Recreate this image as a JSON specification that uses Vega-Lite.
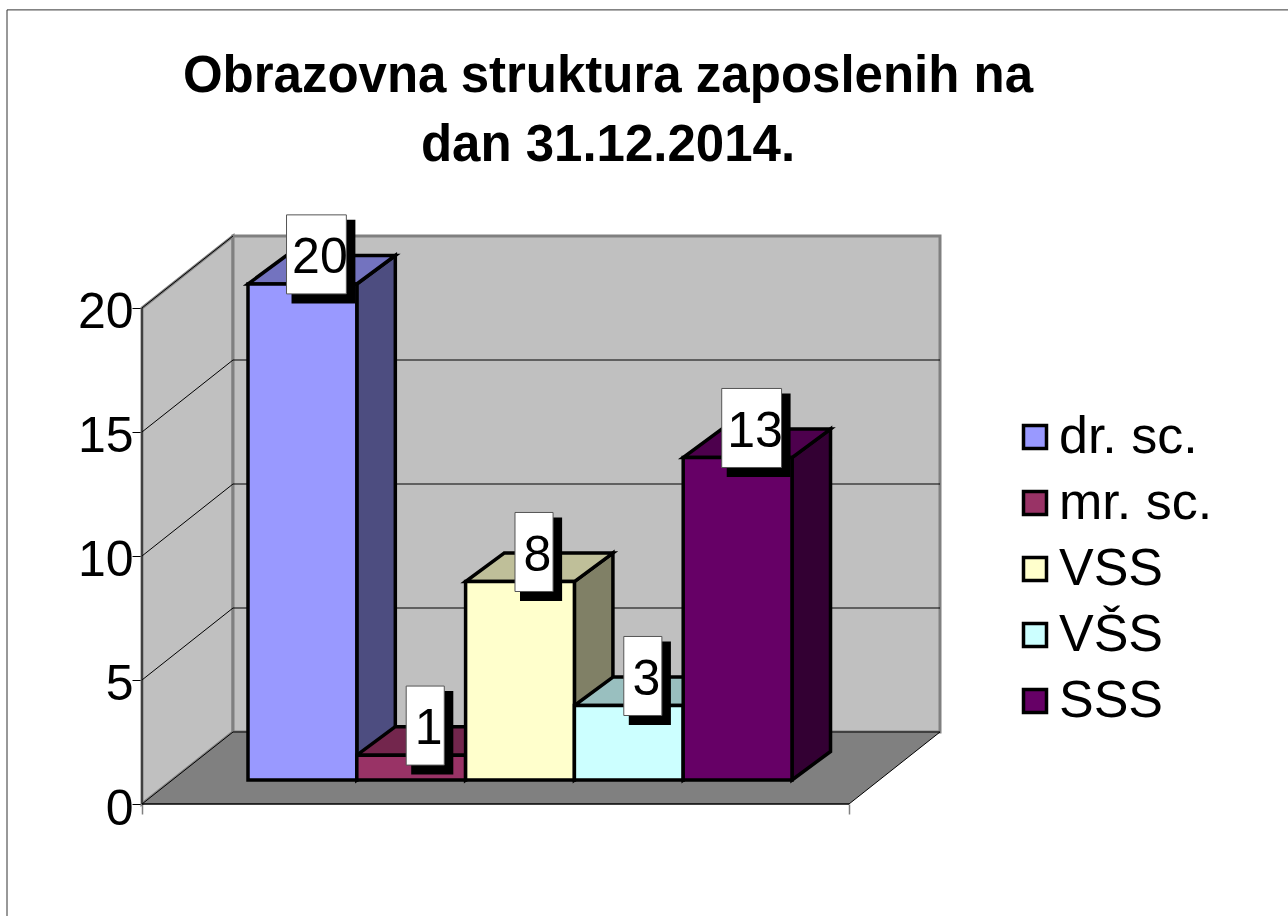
{
"$schema":"https://vega.github.io/schema/vega-lite/v6.json",
"autosize":"none","width":798,"height":568,
"padding":{"left":142,"top":236,"right":348,"bottom":112},
"background":"white",
"config":{"view":{"stroke":null},"font":"Liberation Sans"},
"title":{"text":["Obrazovna struktura zaposlenih na","dan 31.12.2014."],"font":"Liberation Sans","fontSize":51,"fontWeight":"bold","color":"black","lineHeight":69,"anchor":"middle","frame":"group","dx":67,"offset":0,"dy":163},
"datasets":{
"bars":[{"category":"dr. sc.","value":20,"order":0},{"category":"mr. sc.","value":1,"order":1},{"category":"VSS","value":8,"order":2},{"category":"VŠS","value":3,"order":3},{"category":"SSS","value":13,"order":4}],
"ticks":[{"tick":0},{"tick":5},{"tick":10},{"tick":15},{"tick":20}],
"depths":[{"depth":0},{"depth":1}]
},
"encoding":{
"x":{"field":"x","type":"quantitative","title":null,"scale":{"domain":[-0.9743,6.3603],"nice":false,"zero":false},"axis":{"values":[-0.9743,5.524],"labels":false,"grid":false,"domain":false,"tickSize":10,"tickColor":"#808080","tickWidth":1.5}},
"y":{"field":"y","type":"quantitative","title":null,"scale":{"domain":[0,22.903],"nice":false,"zero":false},"axis":{"values":[0,5,10,15,20],"grid":false,"domain":false,"tickSize":10,"tickColor":"black","tickWidth":1,"labelFontSize":50,"labelColor":"black","labelFont":"Liberation Sans","labelPadding":-1,"labelOffset":5,"labelOverlap":false,"labelFlush":false}}
},
"resolve":{"scale":{"color":"independent"}},
"layer":[
{"data":{"name":"depths"},"transform":[{"calculate":"-0.9743+datum.depth*0.8364","as":"x"},{"calculate":"datum.depth*2.903","as":"y"},{"calculate":"20+datum.depth*2.903","as":"y2"}],
 "mark":{"type":"area","fill":"#C0C0C0","stroke":"#808080","strokeWidth":3},"encoding":{"y2":{"field":"y2"}}},
{"data":{"name":"depths"},"transform":[{"filter":"datum.depth==1"},{"calculate":"-0.1379","as":"x"},{"calculate":"6.3603","as":"x2"},{"calculate":"2.903","as":"y"},{"calculate":"22.903","as":"y2"}],
 "mark":{"type":"rect","fill":"#C0C0C0","stroke":"#808080","strokeWidth":3},"encoding":{"x2":{"field":"x2"},"y2":{"field":"y2"}}},
{"data":{"name":"depths"},"transform":[{"calculate":"-0.9743+datum.depth*0.8364","as":"x"},{"calculate":"5.524+datum.depth*0.8364","as":"x2"},{"calculate":"datum.depth*2.903","as":"y"}],
 "mark":{"type":"area","orient":"horizontal","fill":"#808080"},"encoding":{"x2":{"field":"x2"}}},
{"data":{"name":"ticks"},"transform":[{"filter":"datum.tick<20"},{"calculate":"-0.1379","as":"x"},{"calculate":"6.3603","as":"x2"},{"calculate":"datum.tick+2.903","as":"y"}],
 "mark":{"type":"rule","color":"black","strokeWidth":1},"encoding":{"x2":{"field":"x2"}}},
{"data":{"name":"ticks"},"transform":[{"calculate":"-0.9743","as":"x"},{"calculate":"-0.1379","as":"x2"},{"calculate":"datum.tick","as":"y"},{"calculate":"datum.tick+2.903","as":"y2"}],
 "mark":{"type":"rule","color":"black","strokeWidth":1},"encoding":{"x2":{"field":"x2"},"y2":{"field":"y2"}}},
{"data":{"name":"depths"},"transform":[{"filter":"datum.depth==0"},{"calculate":"5.524","as":"x"},{"calculate":"6.3603","as":"x2"},{"calculate":"0","as":"y"},{"calculate":"2.903","as":"y2"}],
 "mark":{"type":"rule","color":"black","strokeWidth":1},"encoding":{"x2":{"field":"x2"},"y2":{"field":"y2"}}},
{"data":{"name":"depths"},"transform":[{"filter":"datum.depth==0"},{"calculate":"-0.9743","as":"x"},{"calculate":"5.524","as":"x2"},{"calculate":"0","as":"y"}],
 "mark":{"type":"rule","color":"black","strokeWidth":1.5},"encoding":{"x2":{"field":"x2"}}},
{"data":{"name":"depths"},"transform":[{"filter":"datum.depth==0"},{"calculate":"-0.9743","as":"x"},{"calculate":"0","as":"y"},{"calculate":"20","as":"y2"}],
 "mark":{"type":"rule","color":"black","strokeWidth":1},"encoding":{"y2":{"field":"y2"}}},
{"data":{"name":"depths"},"transform":[{"filter":"datum.depth==0"},{"calculate":"-2.215","as":"x"},{"calculate":"32.02","as":"y"},{"calculate":"-4.516","as":"y2"}],
 "mark":{"type":"rule","color":"#333333","strokeWidth":1},"encoding":{"y2":{"field":"y2"}}},
{"data":{"name":"depths"},"transform":[{"filter":"datum.depth==0"},{"calculate":"-2.215","as":"x"},{"calculate":"9.56","as":"x2"},{"calculate":"32.02","as":"y"}],
 "mark":{"type":"rule","color":"#333333","strokeWidth":1},"encoding":{"x2":{"field":"x2"}}},
{"data":{"name":"bars"},"transform":[{"calculate":"[0,1]","as":"depth"},{"flatten":["depth"]},{"calculate":"datum.order+1+datum.depth*0.354","as":"x"},{"calculate":"0.968+datum.depth*1.149","as":"y"},{"calculate":"0.968+datum.value+datum.depth*1.149","as":"y2"}],
 "mark":{"type":"area","stroke":"black","strokeWidth":3.5,"opacity":1},
 "encoding":{"y2":{"field":"y2"},"color":{"field":"category","type":"nominal","legend":null,"scale":{"domain":["dr. sc.","mr. sc.","VSS","VŠS","SSS"],"range":["#4D4D80","#4D1A33","#808066","#668080","#330033"]}}}},
{"data":{"name":"bars"},"transform":[{"calculate":"[0,1]","as":"depth"},{"flatten":["depth"]},{"calculate":"datum.order+datum.depth*0.354","as":"x"},{"calculate":"datum.order+1+datum.depth*0.354","as":"x2"},{"calculate":"0.968+datum.value+datum.depth*1.149","as":"y"}],
 "mark":{"type":"area","orient":"horizontal","stroke":"black","strokeWidth":3.5,"opacity":1},
 "encoding":{"x2":{"field":"x2"},"color":{"field":"category","type":"nominal","legend":null,"scale":{"domain":["dr. sc.","mr. sc.","VSS","VŠS","SSS"],"range":["#7373BF","#73264D","#BFBF99","#99BFBF","#4D004D"]}}}},
{"data":{"name":"bars"},"transform":[{"calculate":"datum.order","as":"x"},{"calculate":"datum.order+1","as":"x2"},{"calculate":"0.968","as":"y"},{"calculate":"0.968+datum.value","as":"y2"}],
 "mark":{"type":"rect","stroke":"black","strokeWidth":3.5,"opacity":1},
 "encoding":{"x2":{"field":"x2"},"y2":{"field":"y2"},"color":{"field":"category","type":"nominal","scale":{"domain":["dr. sc.","mr. sc.","VSS","VŠS","SSS"],"range":["#9999FF","#993366","#FFFFCC","#CCFFFF","#660066"]},
  "legend":{"title":null,"orient":"none","legendX":867,"legendY":175,"symbolType":"square","symbolSize":529,"symbolStrokeColor":"black","symbolStrokeWidth":3.5,"symbolOpacity":1,"labelFontSize":52,"labelFont":"Liberation Sans","labelColor":"black","labelOffset":-2,"rowPadding":14,"labelLimit":400}}}},
{"data":{"name":"bars"},"transform":[{"calculate":"datum.value>=10?0.275:0.175","as":"half"},{"calculate":"datum.order+0.629-datum.half+0.046","as":"x"},{"calculate":"datum.order+0.629+datum.half+0.083","as":"x2"},{"calculate":"datum.value+2.162+1.593-0.2","as":"y"},{"calculate":"datum.value+2.162-1.593-0.383","as":"y2"}],
 "mark":{"type":"rect","fill":"black"},"encoding":{"x2":{"field":"x2"},"y2":{"field":"y2"}}},
{"data":{"name":"bars"},"transform":[{"calculate":"datum.value>=10?0.275:0.175","as":"half"},{"calculate":"datum.order+0.629-datum.half","as":"x"},{"calculate":"datum.order+0.629+datum.half","as":"x2"},{"calculate":"datum.value+2.162+1.593","as":"y"},{"calculate":"datum.value+2.162-1.593","as":"y2"}],
 "mark":{"type":"rect","fill":"white","stroke":"#555555","strokeWidth":1},"encoding":{"x2":{"field":"x2"},"y2":{"field":"y2"}}},
{"data":{"name":"bars"},"transform":[{"calculate":"datum.order+0.661","as":"x"},{"calculate":"datum.value+2.02","as":"y"}],
 "mark":{"type":"text","fontSize":50,"font":"Liberation Sans","color":"black","align":"center","baseline":"middle"},"encoding":{"text":{"field":"value","type":"quantitative"}}}
]
}
